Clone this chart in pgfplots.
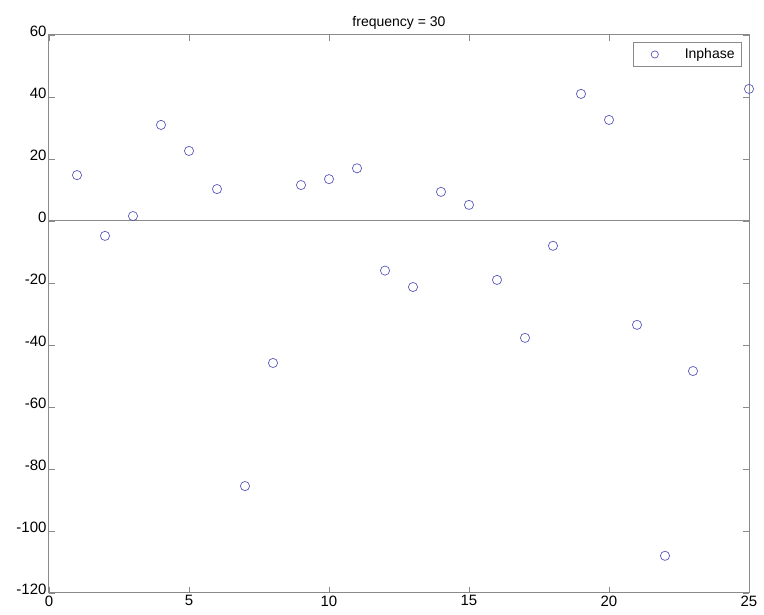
\documentclass[border=0pt]{standalone}
\usepackage{pgfplots}
\pgfplotsset{compat=1.18}
\usepackage{fontspec}
\setmainfont{Liberation Sans}
\definecolor{axgray}{HTML}{8A8A8A}
\definecolor{mk}{HTML}{5A5ABE}
\pgfplotsset{myleg/.style={legend image code/.code={\path[draw=none] (0pt,0pt) -- (24pt,0pt);
    \draw[##1, only marks, mark size=3.6pt] plot coordinates {(16pt,0pt)};}}}
\begin{document}
\begin{tikzpicture}[x=1pt,y=1pt]
\useasboundingbox (-49,-22) rectangle (715,593);
\begin{axis}[
  at={(0,0)}, anchor=south west,
  scale only axis, width=700pt, height=558pt,
  xmin=0, xmax=25, ymin=-120, ymax=60,
  xtick={0,5,...,25}, ytick={-120,-100,...,60},
  tick align=inside, major tick length=6pt,
  axis line style={axgray, line width=1pt},
  every tick/.style={axgray, line width=0.8pt},
  tick label style={font=\fontsize{15}{17}\selectfont, black},
  xticklabel style={yshift=1pt},
  yticklabel style={xshift=1pt, yshift=4pt},
  /pgf/number format/assume math mode=true,
  title={frequency = 30},
  title style={font=\fontsize{14}{16}\selectfont, yshift=-4pt},
  legend style={at={(0.99,0.987)}, anchor=north east, draw=axgray, line width=0.8pt,
    font=\fontsize{14}{16}\selectfont, inner xsep=5pt, inner ysep=4pt, cells={anchor=west}},
  legend cell align=left,
  clip=false,
]
\addplot[axgray, line width=1pt, forget plot] coordinates {(0,0) (25,0)};
\addplot[only marks, mark=o, mark size=4.6pt, mark options={mk, line width=0.7pt}, myleg] coordinates {
(1,14.8) (2,-4.8) (3,1.6) (4,31) (5,22.6) (6,10.3) (7,-85.5) (8,-45.8) (9,11.6) (10,13.5)
(11,17) (12,-16) (13,-21.3) (14,9.4) (15,5.2) (16,-19) (17,-37.7) (18,-8) (19,41) (20,32.6)
(21,-33.5) (22,-108) (23,-48.4) (25,42.6)
};
\addlegendentry{\hspace{20pt}Inphase\hspace{1pt}}
\end{axis}
\end{tikzpicture}
\end{document}
